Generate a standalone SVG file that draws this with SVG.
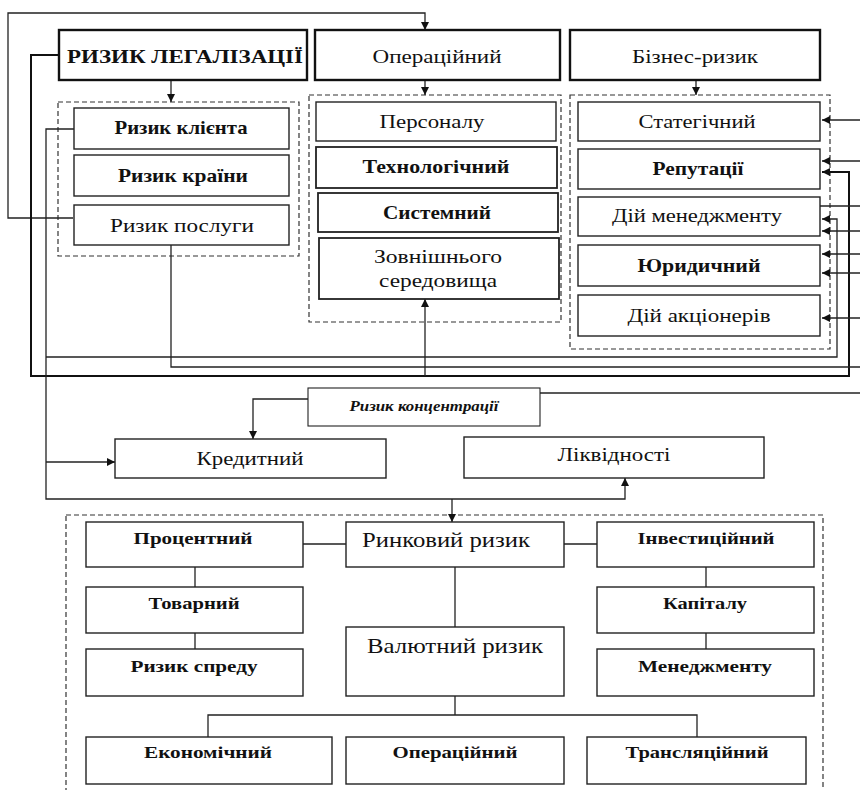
<svg xmlns="http://www.w3.org/2000/svg" width="860" height="790" viewBox="0 0 860 790">
<defs>
<marker id="arr" viewBox="0 0 10 10" refX="10" refY="5" markerWidth="8" markerHeight="8" markerUnits="userSpaceOnUse" orient="auto"><path d="M0,0 L10,5 L0,10 z" fill="#111"/></marker>
</defs>
<style>
.box{fill:#fff;stroke:#222;stroke-width:1.4}
.bx2{fill:#fff;stroke:#111;stroke-width:2.4}
.grp{fill:none;stroke:#333;stroke-width:1.2;stroke-dasharray:5,3}
.ln{fill:none;stroke:#222;stroke-width:1.3}
.lk{fill:none;stroke:#111;stroke-width:2}
text{fill:#111;text-anchor:middle}
.r{font-size:19px}
.b{font-size:19px;font-weight:bold}
.s{font-size:16px;font-weight:bold}
.m{font-size:21px}
</style>
<rect width="860" height="790" fill="#fff"/>
<g id="groups">
<rect class="grp" x="58" y="102" width="241" height="154"/>
<rect class="grp" x="309" y="95" width="252" height="227"/>
<rect class="grp" x="570" y="95" width="260" height="254"/>
<rect class="grp" x="66" y="515" width="757" height="290"/>
</g>
<g id="connectors">
<path class="ln" d="M73,218 H8 V13 H425 V30" marker-end="url(#arr)"/>
<path class="ln" d="M171,80 V102" marker-end="url(#arr)"/>
<path class="ln" d="M425,80 V95" marker-end="url(#arr)"/>
<path class="ln" d="M696,80 V95" marker-end="url(#arr)"/>
<path class="lk" d="M59,55 H31 V376 H849 V172 H822" marker-end="url(#arr)"/>
<path class="ln" d="M425,376 V299" marker-end="url(#arr)"/>
<path class="ln" d="M74,129 H46 V499 H625 V478" marker-end="url(#arr)"/>
<path class="ln" d="M46,462 H115" marker-end="url(#arr)"/>
<path class="ln" d="M452,499 V522" marker-end="url(#arr)"/>
<path class="ln" d="M46,357 H837 V219 H822" marker-end="url(#arr)"/>
<path class="ln" d="M171,245 V367 H860"/>
<path class="ln" d="M308,399 H253 V439" marker-end="url(#arr)"/>
<path class="ln" d="M540,393 H860"/>
<path class="ln" d="M860,120 H822" marker-end="url(#arr)"/>
<path class="ln" d="M860,161 H822" marker-end="url(#arr)"/>
<path class="ln" d="M820,206 H860"/>
<path class="ln" d="M860,231 H822" marker-end="url(#arr)"/>
<path class="ln" d="M860,254 H822" marker-end="url(#arr)"/>
<path class="ln" d="M860,273 H822" marker-end="url(#arr)"/>
<path class="ln" d="M860,318 H822" marker-end="url(#arr)"/>
<path class="ln" d="M303,544 H346 M564,544 H597 M195,567 V587 M195,633 V649 M706,567 V587 M706,633 V649 M455,567 V627 M455,696 V715 M208,737 V715 H697 V737"/>
</g>
<g id="nodes" font-family="'Liberation Serif', 'Times New Roman', serif">
<g id="n-legal"><rect class="bx2" x="59" y="30" width="248" height="50"/><text x="185" y="63" style="font-size:19px;font-weight:bold" textLength="236" lengthAdjust="spacingAndGlyphs">РИЗИК ЛЕГАЛІЗАЦІЇ</text></g>
<g id="n-oper"><rect class="bx2" x="315" y="30" width="245" height="50"/><text class="r" x="437" y="63" textLength="129" lengthAdjust="spacingAndGlyphs">Операційний</text></g>
<g id="n-biz"><rect class="bx2" x="570" y="30" width="250" height="50"/><text class="r" x="695" y="63" textLength="126" lengthAdjust="spacingAndGlyphs">Бізнес-ризик</text></g>
<g id="n-client"><rect class="box" x="74" y="108" width="215" height="41"/><text class="b" x="181" y="134" textLength="133" lengthAdjust="spacingAndGlyphs">Ризик клієнта</text></g>
<g id="n-country"><rect class="box" x="74" y="155" width="215" height="41"/><text class="b" x="183" y="182" textLength="130" lengthAdjust="spacingAndGlyphs">Ризик країни</text></g>
<g id="n-service"><rect class="box" x="74" y="205" width="215" height="40"/><text class="r" x="182" y="232" textLength="144" lengthAdjust="spacingAndGlyphs">Ризик послуги</text></g>
<g id="n-staff"><rect class="box" x="316" y="102" width="240" height="39"/><text class="r" x="432" y="128" textLength="105" lengthAdjust="spacingAndGlyphs">Персоналу</text></g>
<g id="n-tech"><rect class="box" x="316" y="147" width="241" height="41" style="stroke-width:1.8"/><text class="b" x="436" y="173" textLength="147" lengthAdjust="spacingAndGlyphs">Технологічний</text></g>
<g id="n-sys"><rect class="box" x="318" y="193" width="240" height="39" style="stroke-width:1.8"/><text class="b" x="437" y="219" textLength="108" lengthAdjust="spacingAndGlyphs">Системний</text></g>
<g id="n-ext"><rect class="box" x="319" y="238" width="240" height="61" style="stroke-width:1.8"/><text class="r" x="438" y="263" textLength="128" lengthAdjust="spacingAndGlyphs">Зовнішнього</text><text class="r" x="438" y="287" textLength="118" lengthAdjust="spacingAndGlyphs">середовища</text></g>
<g id="n-strat"><rect class="box" x="578" y="102" width="242" height="39"/><text class="r" x="697" y="128" textLength="117" lengthAdjust="spacingAndGlyphs">Статегічний</text></g>
<g id="n-rep"><rect class="box" x="578" y="149" width="242" height="40"/><text class="b" x="698" y="175" textLength="91" lengthAdjust="spacingAndGlyphs">Репутації</text></g>
<g id="n-mgmt"><rect class="box" x="578" y="197" width="242" height="39"/><text class="r" x="697" y="222" textLength="170" lengthAdjust="spacingAndGlyphs">Дій менеджменту</text></g>
<g id="n-legal2"><rect class="box" x="578" y="245" width="242" height="41"/><text class="b" x="699" y="272" textLength="123" lengthAdjust="spacingAndGlyphs">Юридичний</text></g>
<g id="n-share"><rect class="box" x="578" y="295" width="242" height="41"/><text class="r" x="699" y="322" textLength="143" lengthAdjust="spacingAndGlyphs">Дій акціонерів</text></g>
<g id="n-conc"><rect class="box" x="308" y="388" width="232" height="38" style="stroke-width:1.1"/><text x="424" y="411" style="font-size:15px;font-weight:bold;font-style:italic" textLength="149" lengthAdjust="spacingAndGlyphs">Ризик концентрації</text></g>
<g id="n-credit"><rect class="box" x="115" y="439" width="271" height="39"/><text class="r" x="250" y="465" textLength="107" lengthAdjust="spacingAndGlyphs">Кредитний</text></g>
<g id="n-liq"><rect class="box" x="464" y="437" width="300" height="41"/><text class="r" x="614" y="461" textLength="113" lengthAdjust="spacingAndGlyphs">Ліквідності</text></g>
<g id="n-pct"><rect class="box" x="86" y="522" width="217" height="45"/><text class="s" x="193" y="544" textLength="119" lengthAdjust="spacingAndGlyphs">Процентний</text></g>
<g id="n-goods"><rect class="box" x="86" y="587" width="217" height="46"/><text class="s" x="194" y="609" textLength="91" lengthAdjust="spacingAndGlyphs">Товарний</text></g>
<g id="n-spread"><rect class="box" x="86" y="649" width="217" height="47"/><text class="s" x="194" y="672" textLength="127" lengthAdjust="spacingAndGlyphs">Ризик спреду</text></g>
<g id="n-market"><rect class="box" x="346" y="522" width="218" height="45"/><text class="m" x="446" y="547" textLength="168" lengthAdjust="spacingAndGlyphs">Ринковий ризик</text></g>
<g id="n-invest"><rect class="box" x="597" y="522" width="217" height="45"/><text class="s" x="706" y="544" textLength="137" lengthAdjust="spacingAndGlyphs">Інвестиційний</text></g>
<g id="n-capital"><rect class="box" x="597" y="587" width="217" height="46"/><text class="s" x="705" y="609" textLength="84" lengthAdjust="spacingAndGlyphs">Капіталу</text></g>
<g id="n-manag"><rect class="box" x="597" y="649" width="217" height="47"/><text class="s" x="705" y="672" textLength="134" lengthAdjust="spacingAndGlyphs">Менеджменту</text></g>
<g id="n-fx"><rect class="box" x="346" y="627" width="218" height="69"/><text class="m" x="455" y="653" textLength="176" lengthAdjust="spacingAndGlyphs">Валютний ризик</text></g>
<g id="n-econ"><rect class="box" x="86" y="737" width="246" height="47"/><text class="s" x="208" y="758" textLength="128" lengthAdjust="spacingAndGlyphs">Економічний</text></g>
<g id="n-oper2"><rect class="box" x="346" y="737" width="218" height="47"/><text class="s" x="455" y="758" textLength="125" lengthAdjust="spacingAndGlyphs">Операційний</text></g>
<g id="n-transl"><rect class="box" x="587" y="737" width="219" height="47"/><text class="s" x="697" y="758" textLength="143" lengthAdjust="spacingAndGlyphs">Трансляційний</text></g>
</g>
</svg>
